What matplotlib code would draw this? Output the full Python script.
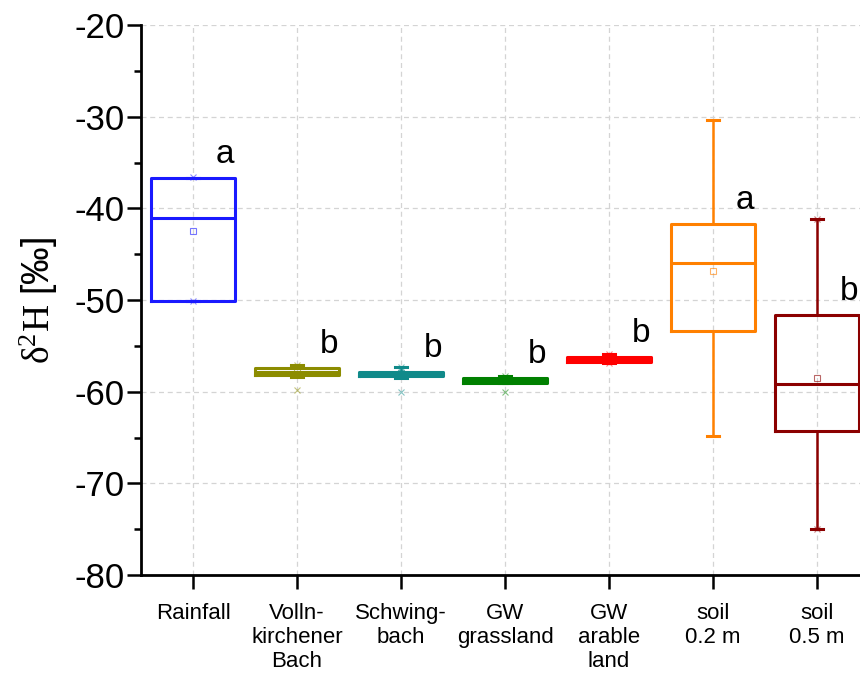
import matplotlib
matplotlib.use('Agg')
import matplotlib.pyplot as plt
from matplotlib.ticker import MultipleLocator

plt.rcParams['font.family'] = ['Liberation Sans', 'DejaVu Sans']
plt.rcParams['axes.unicode_minus'] = False
plt.rcParams['mathtext.fontset'] = 'custom'
plt.rcParams['mathtext.rm'] = 'Liberation Serif'
plt.rcParams['mathtext.it'] = 'Liberation Serif:italic'

# Daten
labels = ['Rainfall', 'Volln-\nkirchener\nBach', 'Schwing-\nbach', 'GW\ngrassland',
          'GW\narable\nland', 'soil\n0.2 m', 'soil\n0.5 m']
q1 = [-50.1, -58.2, -58.3, -59.0, -56.8, -53.4, -64.3]
med = [-41.1, -57.8, -58.0, -58.8, -56.5, -46.0, -59.2]
q3 = [-36.7, -57.4, -57.8, -58.5, -56.2, -41.7, -51.6]
mean = [-42.5, -57.8, -58.0, -58.8, -56.5, -46.8, -58.5]
whislo = [-50.1, -58.4, -58.5, -59.1, -56.9, -64.8, -75.0]
whishi = [-36.7, -57.1, -57.3, -58.3, -55.9, -30.4, -41.2]
extreme = [[-36.6, -50.1], [-57.1, -59.8], [-57.3, -60.0], [-58.3, -60.0],
           [-55.9, -56.9], [], [-41.2, -75.0]]
letters = ['a', 'b', 'b', 'b', 'b', 'a', 'b']
colors = ['#1a1aff', '#8c8c00', '#108a8a', '#008000', '#ff0000', '#ff8000', '#8b0000']

fig = plt.figure(figsize=(8.6, 6.79), dpi=100)
ax = fig.add_axes([141 / 860, 104 / 679, 728 / 860, 550 / 679])

for i in range(len(labels)):
    c = colors[i]
    stats = [dict(med=med[i], q1=q1[i], q3=q3[i], whislo=whislo[i], whishi=whishi[i],
                  mean=mean[i], fliers=extreme[i])]
    ax.bxp(stats, positions=[i + 1], widths=0.8, capwidths=0.12,
           showmeans=True, manage_ticks=False,
           boxprops=dict(color=c, linewidth=2.2),
           medianprops=dict(color=c, linewidth=2.2),
           whiskerprops=dict(color=c, linewidth=1.8),
           capprops=dict(color=c, linewidth=2.2),
           meanprops=dict(marker='s', markersize=5, markerfacecolor='none',
                          markeredgecolor=c, markeredgewidth=0.8, alpha=0.6),
           flierprops=dict(marker='x', markersize=5, markeredgecolor=c,
                           markeredgewidth=0.8, alpha=0.5),
           zorder=3)
    ax.text(i + 1.31, q3[i] + 1.6, letters[i], fontsize=24, ha='center', va='baseline')

ax.set_xlim(0.5, 7.5)
ax.set_ylim(-80, -20)
ax.set_xticks(range(1, len(labels) + 1))
ax.set_xticklabels(labels, fontsize=16)
ax.yaxis.set_major_locator(MultipleLocator(10))
ax.yaxis.set_minor_locator(MultipleLocator(5))
ax.tick_params(axis='y', labelsize=25)
ax.tick_params(which='major', direction='out', length=10, width=1.8, pad=2)
ax.tick_params(axis='x', pad=10)
ax.tick_params(which='minor', direction='out', length=5, width=1.8)

ax.grid(True, which='major', color='#d4d4d4', linestyle=(0, (4, 3)), linewidth=0.9)
ax.set_axisbelow(True)
for s in ['top', 'right']:
    ax.spines[s].set_visible(False)
for s in ['left', 'bottom']:
    ax.spines[s].set_linewidth(2)

ax.set_ylabel(r'$\mathrm{\delta^2H}$ [‰]', fontsize=27, labelpad=10)

fig.savefig('out.png', dpi=100)
